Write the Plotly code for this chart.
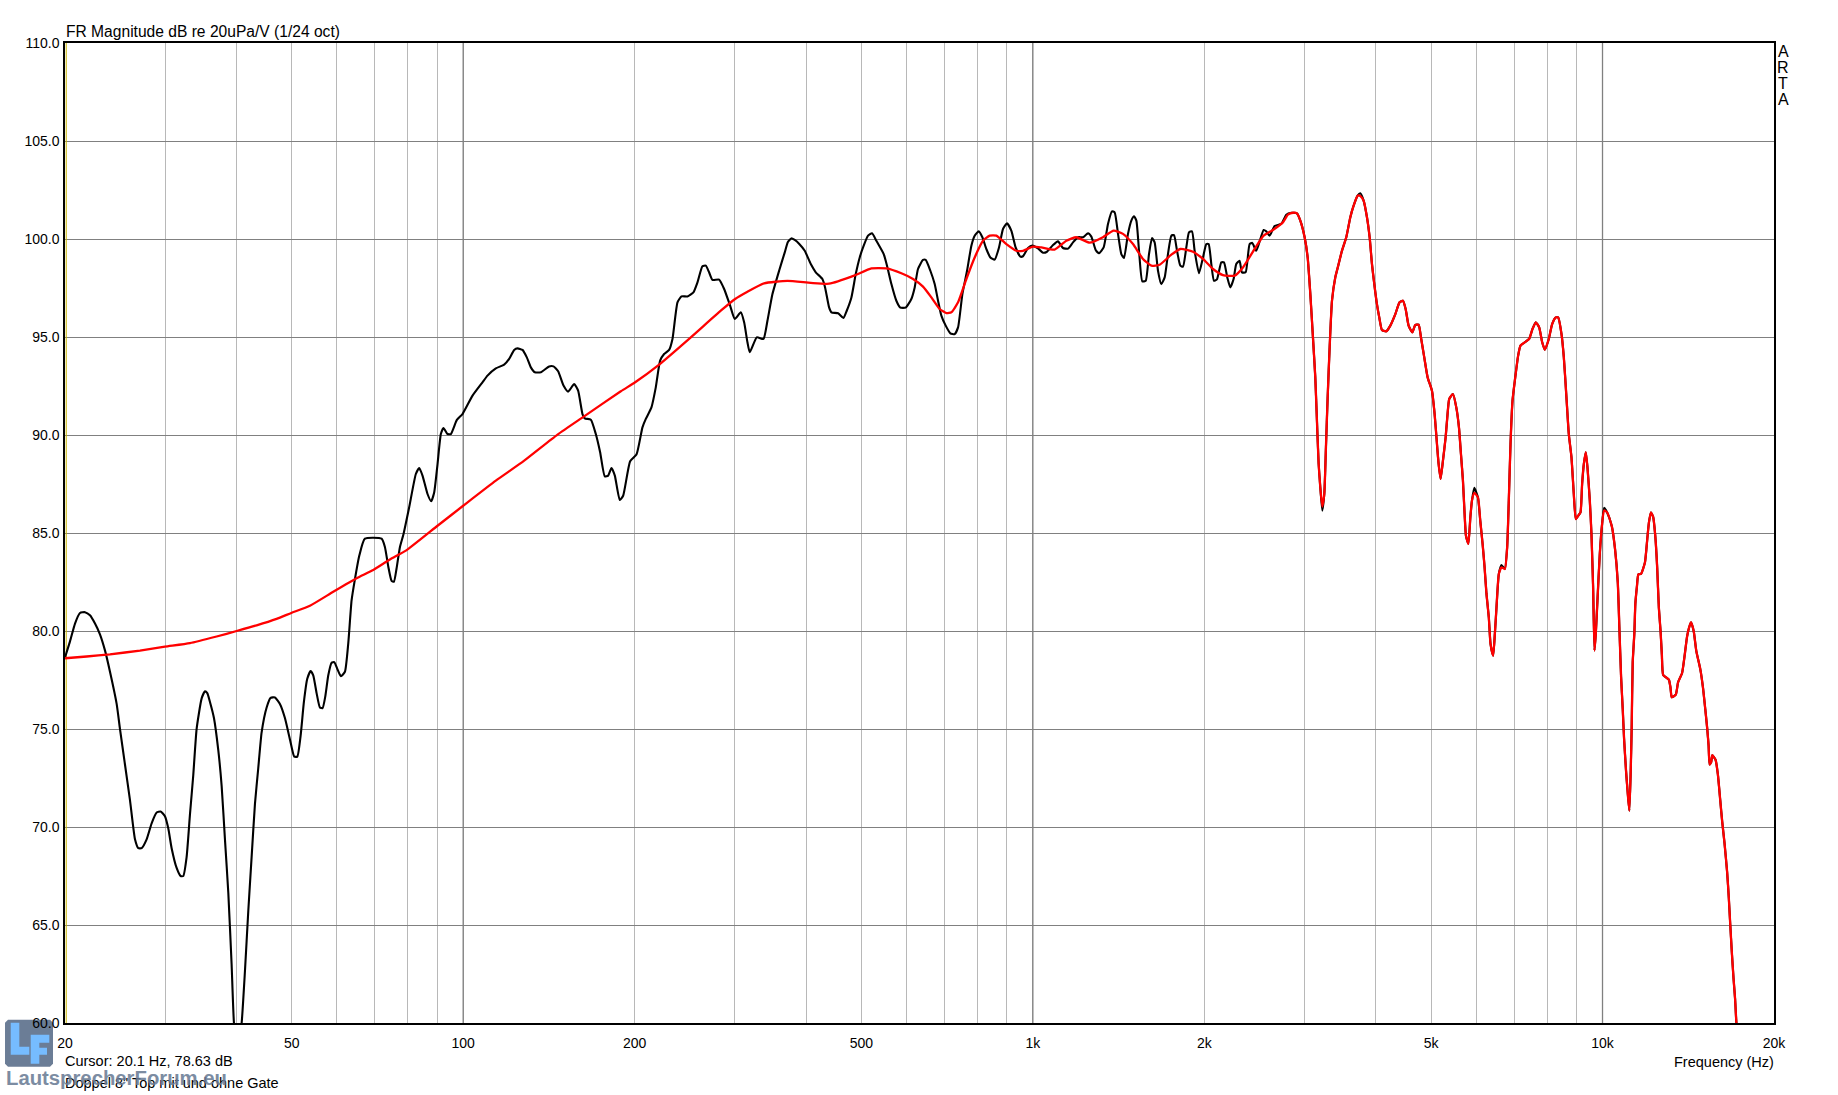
import plotly.graph_objects as go

# Values. Frequencies are stored as log10(Hz).
black_log10_hz = [
1.3010,1.3098,1.3186,1.3273,1.3361,1.3449,1.3537,1.3624,1.3712,1.3800,1.3917,1.3975,1.4063,1.4151,1.4239,1.4297,1.4356,1.4443,1.4531,1.4619,
1.4689,1.4765,1.4824,1.4882,1.4970,1.5040,1.5087,1.5145,1.5204,1.5262,1.5321,1.5409,1.5467,1.5508,1.5555,1.5625,1.5701,1.5760,1.5818,1.5877,
1.5935,1.5976,1.6040,1.6111,1.6169,1.6228,1.6286,1.6345,1.6403,1.6462,1.6550,1.6620,1.6696,1.6783,1.6871,1.6959,1.7035,1.7088,1.7146,1.7204,
1.7263,1.7321,1.7368,1.7427,1.7485,1.7532,1.7579,1.7632,1.7690,1.7737,1.7790,1.7854,1.7924,1.7983,1.8041,1.8100,1.8176,1.8275,1.8568,1.8626,
1.8685,1.8743,1.8784,1.8831,1.8890,1.8953,1.9052,1.9169,1.9228,1.9286,1.9374,1.9438,1.9491,1.9550,1.9608,1.9655,1.9725,1.9784,1.9889,1.9988,
2.0164,2.0339,2.0427,2.0573,2.0719,2.0807,2.0895,2.0954,2.1041,2.1117,2.1188,2.1258,2.1363,2.1509,2.1585,2.1667,2.1761,2.1843,2.1948,2.2018,
2.2094,2.2135,2.2241,2.2328,2.2404,2.2486,2.2545,2.2603,2.2662,2.2749,2.2808,2.2931,2.3042,2.3147,2.3206,2.3305,2.3381,2.3457,2.3527,2.3615,
2.3674,2.3762,2.3832,2.3937,2.4042,2.4113,2.4200,2.4259,2.4317,2.4376,2.4493,2.4581,2.4686,2.4768,2.4873,2.4932,2.4990,2.5031,2.5154,2.5271,
2.5341,2.5429,2.5546,2.5645,2.5700,2.5760,2.5820,2.5900,2.5996,2.6102,2.6189,2.6306,2.6353,2.6423,2.6464,2.6581,2.6675,2.6733,2.6815,2.6891,
2.6961,2.7031,2.7107,2.7177,2.7253,2.7382,2.7440,2.7517,2.7604,2.7674,2.7768,2.7867,2.7926,2.7984,2.8072,2.8119,2.8201,2.8277,2.8336,2.8394,
2.8470,2.8552,2.8628,2.8687,2.8763,2.8845,2.8921,2.8979,2.9050,2.9114,2.9184,2.9254,2.9330,2.9406,2.9476,2.9546,2.9622,2.9698,2.9780,2.9827,
2.9915,2.9991,3.0090,3.0178,3.0248,3.0354,3.0441,3.0529,3.0617,3.0705,3.0793,3.0880,3.0968,3.1027,3.1103,3.1161,3.1243,3.1319,3.1389,3.1436,
3.1495,3.1553,3.1600,3.1670,3.1729,3.1776,3.1817,3.1864,3.1922,3.1981,3.2039,3.2092,3.2138,3.2197,3.2255,3.2314,3.2372,3.2431,3.2478,3.2531,
3.2589,3.2636,3.2694,3.2741,3.2794,3.2840,3.2916,3.2987,3.3045,3.3086,3.3133,3.3180,3.3232,3.3308,3.3355,3.3413,3.3466,3.3524,3.3571,3.3629,
3.3671,3.3735,3.3805,3.3852,3.3922,3.4051,3.4098,3.4156,3.4244,3.4361,3.4449,3.4537,
]
black_db = [
78.65,79.47,80.38,80.92,80.96,80.80,80.38,79.83,79.01,77.92,76.28,75.01,73.19,71.37,69.37,68.92,68.92,69.37,70.19,70.74,
70.79,70.55,69.92,68.92,67.91,67.50,67.50,68.46,70.64,72.65,75.01,76.56,76.92,76.83,76.38,75.56,73.92,72.10,69.37,66.64,
63.00,60.00,58.50,60.00,62.64,65.73,68.46,71.19,73.01,74.83,76.10,76.59,76.61,76.28,75.56,74.47,73.59,73.59,74.65,76.38,
77.56,77.96,77.74,76.83,76.10,76.07,76.65,77.74,78.38,78.41,78.07,77.69,77.92,79.38,81.56,82.65,83.84,84.71,84.71,84.29,
83.29,82.56,82.51,83.20,84.29,84.95,86.31,88.01,88.32,87.93,86.99,86.62,87.07,88.52,90.05,90.36,90.05,90.05,90.77,91.07,
92.01,92.69,93.03,93.40,93.59,93.88,94.34,94.42,94.34,93.96,93.45,93.20,93.20,93.50,93.50,93.25,92.52,92.21,92.60,92.26,
91.07,90.85,90.78,90.05,89.12,87.89,87.93,88.32,87.93,86.68,86.90,88.66,89.00,90.39,90.82,91.41,92.43,93.79,94.13,94.34,
94.90,96.77,97.07,97.07,97.28,97.79,98.61,98.64,98.30,97.91,97.93,97.45,96.60,95.92,96.26,95.75,94.73,94.22,94.98,94.90,
95.83,97.19,98.38,99.32,99.85,100.03,99.95,99.75,99.40,98.72,98.30,97.96,97.53,96.51,96.26,96.21,95.97,96.34,97.02,98.21,
99.06,99.66,100.17,100.29,99.91,99.23,98.64,97.70,96.85,96.50,96.50,96.94,97.53,98.47,98.93,98.93,98.38,97.70,96.85,96.09,
95.58,95.19,95.15,95.49,97.19,98.38,99.66,100.17,100.39,100.09,99.49,99.06,98.95,99.57,100.51,100.80,100.43,99.57,99.10,99.12,
99.54,99.66,99.52,99.30,99.35,99.69,99.88,99.54,99.51,99.83,100.09,100.09,100.29,100.12,99.44,99.27,99.57,100.77,101.41,101.36,
100.26,99.23,99.03,100.26,100.94,101.16,100.94,99.40,97.84,97.87,99.23,100.05,99.83,98.38,97.70,98.04,99.23,100.17,100.20,99.40,
98.64,98.59,99.57,100.34,100.39,99.40,98.25,99.06,99.74,99.74,98.72,97.87,97.94,98.81,98.81,98.04,97.53,97.96,98.72,98.89,
98.30,98.30,99.74,99.80,99.40,100.46,100.39,100.17,100.66,100.77,101.24,101.34,
]

red_log10_hz = [
1.3010,1.3390,1.3800,1.4326,1.4765,1.5204,1.5672,1.6023,1.6374,1.6725,1.6982,1.7310,1.7719,1.8129,1.8421,1.8714,1.8994,1.9550,2.0000,2.0573,
2.1071,2.1656,2.2123,2.2767,2.3019,2.3440,2.3996,2.4522,2.4774,2.4990,2.5283,2.5692,2.6102,2.6423,2.6862,2.7166,2.7429,2.7692,2.7897,2.8072,
2.8219,2.8365,2.8482,2.8570,2.8687,2.8833,2.8979,2.9125,2.9242,2.9359,2.9535,2.9710,2.9827,3.0003,3.0149,3.0383,3.0588,3.0763,3.0997,3.1231,
3.1418,3.1582,3.1758,3.1933,3.2080,3.2226,3.2431,3.2589,3.2811,3.2987,3.3162,3.3337,3.3542,3.3688,3.3893,3.4051,3.4214,3.4390,3.4478,3.4566,
]
red_db = [
78.61,78.70,78.81,79.00,79.20,79.38,79.72,80.00,80.29,80.62,80.92,81.29,82.00,82.69,83.11,83.65,84.10,85.37,86.39,87.67,
88.69,90.02,90.95,92.23,92.69,93.59,94.98,96.34,96.94,97.31,97.74,97.86,97.76,97.72,98.13,98.50,98.50,98.25,97.96,97.57,
97.02,96.43,96.22,96.26,96.77,97.96,99.06,99.91,100.17,100.17,99.74,99.40,99.40,99.61,99.57,99.46,99.91,100.09,99.81,100.09,
100.43,100.26,99.74,98.98,98.64,98.69,99.20,99.49,99.35,98.98,98.47,98.16,98.13,98.55,99.49,100.17,100.46,100.85,101.24,101.34,
]

# Above about 2.9 kHz both curves run together.
shared_log10_hz = [
3.4636,3.4695,3.4771,3.4824,3.4871,3.4917,3.4958,3.4987,3.5017,3.5046,3.5081,3.5116,3.5145,3.5175,3.5210,3.5251,3.5309,3.5368,3.5426,3.5502,
3.5573,3.5631,3.5701,3.5748,3.5806,3.5865,3.5912,3.5953,3.5994,3.6040,3.6081,3.6128,3.6204,3.6275,3.6363,3.6438,3.6497,3.6544,3.6596,3.6661,
3.6713,3.6772,3.6813,3.6871,3.6930,3.7006,3.7053,3.7094,3.7123,3.7158,3.7199,3.7246,3.7275,3.7310,3.7374,3.7433,3.7480,3.7515,3.7550,3.7579,
3.7603,3.7645,3.7680,3.7708,3.7749,3.7813,3.7854,3.7895,3.7930,3.7963,3.8004,3.8034,3.8080,3.8110,3.8139,3.8180,3.8227,3.8285,3.8326,3.8355,
3.8385,3.8420,3.8461,3.8519,3.8560,3.8636,3.8712,3.8771,3.8829,3.8888,3.8941,3.8987,3.9057,3.9116,3.9180,3.9221,3.9280,3.9321,3.9367,3.9408,
3.9455,3.9496,3.9531,3.9572,3.9613,3.9642,3.9672,3.9707,3.9736,3.9777,3.9806,3.9835,3.9859,3.9882,3.9911,3.9952,3.9993,4.0028,4.0081,4.0163,
4.0221,4.0268,4.0297,4.0326,4.0355,4.0378,4.0413,4.0442,4.0471,4.0495,4.0512,4.0530,4.0559,4.0576,4.0605,4.0629,4.0675,4.0745,4.0786,4.0815,
4.0850,4.0890,4.0925,4.0960,4.0989,4.1019,4.1042,4.1065,4.1164,4.1193,4.1216,4.1286,4.1327,4.1397,4.1443,4.1484,4.1519,4.1554,4.1601,4.1647,
4.1717,4.1763,4.1804,4.1839,4.1862,4.1880,4.1909,4.1926,4.1985,4.2025,4.2066,4.2101,4.2142,4.2188,4.2217,4.2241,4.2270,4.2299,4.2328,4.2351,4.2400,
]
shared_db = [
101.31,100.94,100.09,99.06,97.19,94.98,92.94,90.73,88.52,87.33,86.14,86.99,89.37,91.92,94.47,96.85,98.04,98.72,99.40,100.09,
101.11,101.70,102.21,102.33,101.96,101.11,100.09,98.72,97.70,96.68,96.00,95.36,95.29,95.58,96.17,96.77,96.85,96.43,95.58,95.24,
95.61,95.63,94.98,93.96,92.94,92.26,91.07,89.54,88.52,87.76,88.69,89.88,90.90,91.84,92.09,91.41,90.39,89.03,87.67,85.97,
84.86,84.45,85.80,86.65,87.30,86.82,85.63,84.44,83.25,81.89,80.70,79.34,78.74,79.85,81.21,82.91,83.37,83.16,84.27,86.65,
89.54,91.75,92.77,94.05,94.56,94.73,94.90,95.41,95.75,95.49,94.73,94.35,94.90,95.66,96.00,96.00,95.15,93.96,91.92,90.05,
88.86,86.99,85.71,85.88,86.05,87.50,88.52,89.12,88.35,86.65,84.95,82.23,79.00,79.85,81.55,83.93,85.46,86.28,86.05,85.35,
84.15,82.48,80.08,77.67,76.01,74.53,72.86,71.75,70.83,72.86,75.08,78.41,79.89,81.37,82.30,82.89,82.91,83.50,84.70,85.54,
86.05,85.81,84.89,83.22,81.19,79.99,78.78,77.76,77.52,77.12,76.62,76.75,77.39,77.86,78.78,79.71,80.17,80.45,79.99,78.97,
78.04,77.12,76.01,74.99,74.16,73.19,73.32,73.66,73.42,72.68,71.38,70.27,69.16,67.68,66.38,65.09,63.61,62.31,61.20,60.00,59.00,
]
# Where the red trace sits just below the black one.
red_peak_trim = {3.5081: 86.35, 3.5748: 102.20, 3.7749: 87.05, 3.8227: 83.25, 4.0028: 86.15}

x_tick_hz = [20, 50, 100, 200, 500, 1000, 2000, 5000, 10000, 20000]
x_tick_text = ["20", "50", "100", "200", "500", "1k", "2k", "5k", "10k", "20k"]
x_minor_hz = [30, 40, 60, 70, 80, 90, 300, 400, 600, 700, 800, 900, 3000, 4000, 6000, 7000, 8000, 9000]
decade_hz = [100, 1000, 10000]
cursor_hz = 20.1

FONT = "Liberation Sans"
W, H = 1838, 1095
L, R, T, B = 65.0, 1774.5, 42.5, 1023.3


def px(X, Y):
    return (X - L) / (R - L), (B - Y) / (B - T)


def note(text, X, Y, xanchor="left", size=14.5, color="#000000", bold=False, opacity=1.0):
    x, y = px(X, Y)
    return dict(text=f"<b>{text}</b>" if bold else text, x=x, y=y, xref="paper", yref="paper",
                xanchor=xanchor, yanchor="middle", showarrow=False, opacity=opacity,
                font=dict(family=FONT, size=size, color=color))


def poly(points, color, opacity=1.0):
    parts = []
    for i, (X, Y) in enumerate(points):
        x, y = px(X, Y)
        parts.append(f"{'M' if i == 0 else 'L'}{x:.5f} {y:.5f}")
    return dict(type="path", xref="paper", yref="paper", path=" ".join(parts) + " Z",
                fillcolor=color, line=dict(width=0), opacity=opacity, layer="below")


fig = go.Figure()

grid_x, grid_y = [], []
for f in decade_hz:
    grid_x += [f, f, None]
    grid_y += [60, 110, None]
fig.add_trace(go.Scatter(x=grid_x, y=grid_y, mode="lines", line=dict(color="#808080", width=1.3),
                         hoverinfo="skip", showlegend=False))
fig.add_trace(go.Scatter(x=[cursor_hz, cursor_hz], y=[60, 110], mode="lines",
                         line=dict(color="#c8b400", width=1.0), hoverinfo="skip", showlegend=False))

black_x = [10 ** v for v in black_log10_hz + shared_log10_hz]
black_y = black_db + shared_db
red_x = [10 ** v for v in red_log10_hz + shared_log10_hz]
red_y = red_db + [red_peak_trim.get(f, v) for f, v in zip(shared_log10_hz, shared_db)]

fig.add_trace(go.Scatter(x=black_x, y=black_y, mode="lines", name="ohne Gate",
                         line=dict(color="#000000", width=2.1, shape="spline", smoothing=0.5), showlegend=False))
fig.add_trace(go.Scatter(x=red_x, y=red_y, mode="lines", name="mit Gate",
                         line=dict(color="#ff0000", width=2.3, shape="spline", smoothing=0.5), showlegend=False))

annotations = [
    note("FR Magnitude dB re 20uPa/V (1/24 oct)", 64, 30.5, size=15.6),
    note("Cursor: 20.1 Hz, 78.63 dB", 63, 1061.5),
    note('Doppel 8" Top mit und ohne Gate', 63, 1083),
    note("Frequency (Hz)", 1776.5, 1062, xanchor="right"),
    note("A", 1784, 51, xanchor="center", size=16),
    note("R", 1784, 67.5, xanchor="center", size=16),
    note("T", 1784, 83, xanchor="center", size=16),
    note("A", 1784, 99, xanchor="center", size=16),
    note("LautsprecherForum.eu", 4, 1078, size=20.3, color="#6b7d96", bold=True, opacity=0.88),
]

LOGO = "#6b7d96"
LETTER = "#76bcff"
shapes = [
    poly([(8, 1020), (50, 1020), (53, 1023), (53, 1064), (50, 1067), (8, 1067), (5, 1064), (5, 1023)], LOGO),
    poly([(10.7, 1023), (19.3, 1023), (19.3, 1047), (29.3, 1047), (29.3, 1055), (10.7, 1055)], LETTER),
    poly([(30.7, 1035), (49.3, 1035), (49.3, 1043), (39.3, 1043), (39.3, 1048), (47, 1048), (47, 1055),
          (39.3, 1055), (39.3, 1064), (30.7, 1064)], LETTER),
]

fig.update_layout(
    width=W, height=H, autosize=False,
    paper_bgcolor="#ffffff", plot_bgcolor="#ffffff",
    margin=dict(l=L, r=W - R, t=T, b=H - B, pad=0),
    showlegend=False,
    font=dict(family=FONT, size=14, color="#000000"),
    annotations=annotations, shapes=shapes,
    xaxis=dict(type="log", range=[1.30103, 4.30103], tickmode="array", tickvals=x_tick_hz,
               ticktext=x_tick_text, showgrid=True, gridcolor="#b8b8b8", gridwidth=1.3,
               minor=dict(tickmode="array", tickvals=x_minor_hz, showgrid=True, gridcolor="#b8b8b8",
                          gridwidth=1.3, ticklen=0),
               ticks="outside", ticklen=6, tickcolor="rgba(0,0,0,0)", zeroline=False,
               showline=True, linecolor="#000000", linewidth=1.5, mirror=True, tickangle=0),
    yaxis=dict(range=[60, 110], dtick=5, tick0=60, tickformat=".1f", showgrid=True,
               gridcolor="#808080", gridwidth=1.3, zeroline=False, ticks="outside", ticklen=1,
               tickcolor="rgba(0,0,0,0)", showline=True, linecolor="#000000", linewidth=1.5, mirror=True),
)

fig.write_html("out.html", config={"displayModeBar": False},
               post_script="document.body.style.margin='0';document.body.style.overflow='hidden';")
